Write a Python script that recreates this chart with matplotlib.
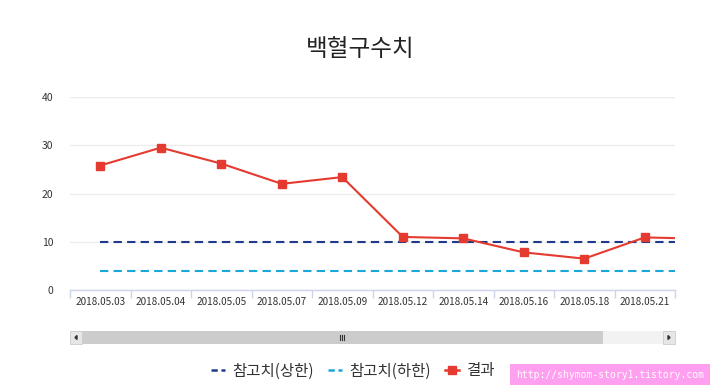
import matplotlib
matplotlib.use("Agg")
import matplotlib.pyplot as plt
from matplotlib.patches import Rectangle, Polygon
from matplotlib.lines import Line2D

plt.rcParams['font.family'] = ['Noto Sans CJK KR', 'DejaVu Sans']

title = "백혈구수치"
dates = ["2018.05.03", "2018.05.04", "2018.05.05", "2018.05.07", "2018.05.09",
         "2018.05.12", "2018.05.14", "2018.05.16", "2018.05.18", "2018.05.21",
         "2018.05.23"]
results = [25.8, 29.5, 26.2, 22.0, 23.4, 11.0, 10.7, 7.8, 6.5, 10.9, 10.6]
upper = [10] * len(dates)
lower = [4] * len(dates)
series_names = ["참고치(상한)", "참고치(하한)", "결과"]
visible = 10

c_upper = "#1f3a8a"
c_lower = "#1aa7d9"
c_result = "#e53a2f"

fig = plt.figure(figsize=(7.2, 3.9), dpi=100)
ax = fig.add_axes([70/720, 1-290/390, 605/720, 193/390])

x = list(range(len(dates)))
ax.plot(x, upper, color=c_upper, lw=1.5, ls=(0, (4, 2.5)), zorder=2)
ax.plot(x, lower, color=c_lower, lw=1.5, ls=(0, (4, 2.5)), zorder=2)
ax.plot(x, results, color=c_result, lw=1.5, marker='s', markersize=6, zorder=3)

ax.set_xlim(-0.5, visible - 0.5)
ax.set_ylim(0, 40)
ax.set_yticks([0, 10, 20, 30, 40])
ax.set_xticks(range(visible))
ax.set_xticklabels(dates[:visible], fontsize=7.2, color="#333333")
ax.tick_params(axis='x', length=0, pad=5)
ax.set_xticks([i - 0.5 for i in range(visible + 1)], minor=True)
ax.tick_params(axis='x', which='minor', length=6, color="#ccd6eb", width=1)
ax.tick_params(axis='y', length=0, labelsize=7.5, labelcolor="#333333", pad=12)
ax.grid(axis='y', color="#ececec", lw=1)
ax.set_axisbelow(True)
for s in ["top", "right", "left"]:
    ax.spines[s].set_visible(False)
ax.spines["bottom"].set_color("#ccd6eb")
ax.spines["bottom"].set_linewidth(1)

fig.text(360/720, 1-50/390, title, ha='center', va='center', fontsize=17, color="#222222")

# scrollbar
W, H = 720, 390
def rect(x0, y0, w, h, **kw):
    fig.patches.append(Rectangle((x0/W, 1-(y0+h)/H), w/W, h/H, transform=fig.transFigure, **kw))
rect(70, 331, 605, 13, facecolor="#f2f2f2", edgecolor="none")
rect(82, 331, 521, 13, facecolor="#cccccc", edgecolor="none")
rect(70, 331, 12, 13, facecolor="#e6e6e6", edgecolor="#cccccc", lw=0.6)
rect(663, 331, 12, 13, facecolor="#e6e6e6", edgecolor="#cccccc", lw=0.6)
fig.patches.append(Polygon([(77/W, 1-335.5/H), (77/W, 1-339.5/H), (75/W, 1-337.5/H)],
                           closed=True, transform=fig.transFigure, color="#333333"))
fig.patches.append(Polygon([(668/W, 1-335.5/H), (668/W, 1-339.5/H), (670/W, 1-337.5/H)],
                           closed=True, transform=fig.transFigure, color="#333333"))
for gx in (340, 342, 344):
    fig.add_artist(Line2D([gx/W, gx/W], [1-335/H, 1-340/H], transform=fig.transFigure,
                          color="#333333", lw=0.8))

handles = [
    Line2D([], [], color=c_upper, lw=1.8, ls=(0, (2.5, 1.5))),
    Line2D([], [], color=c_lower, lw=1.8, ls=(0, (2.5, 1.5))),
    Line2D([], [], color=c_result, lw=1.8, marker='s', markersize=6),
]
fig.legend(handles, series_names, loc='center', bbox_to_anchor=(353/W, 1-371/H),
           ncol=3, frameon=False, fontsize=11.2, handlelength=0.9, handletextpad=0.5,
           columnspacing=0.9, labelcolor="#333333")

fig.text(610/W, 1-374.5/H, "http://shymom-story1.tistory.com", ha='center', va='center',
         fontsize=7, color="white", family='DejaVu Sans Mono',
         bbox=dict(boxstyle='square,pad=0.6', facecolor="#ff9ff0", edgecolor="none"))

fig.savefig("out.png", dpi=100)
